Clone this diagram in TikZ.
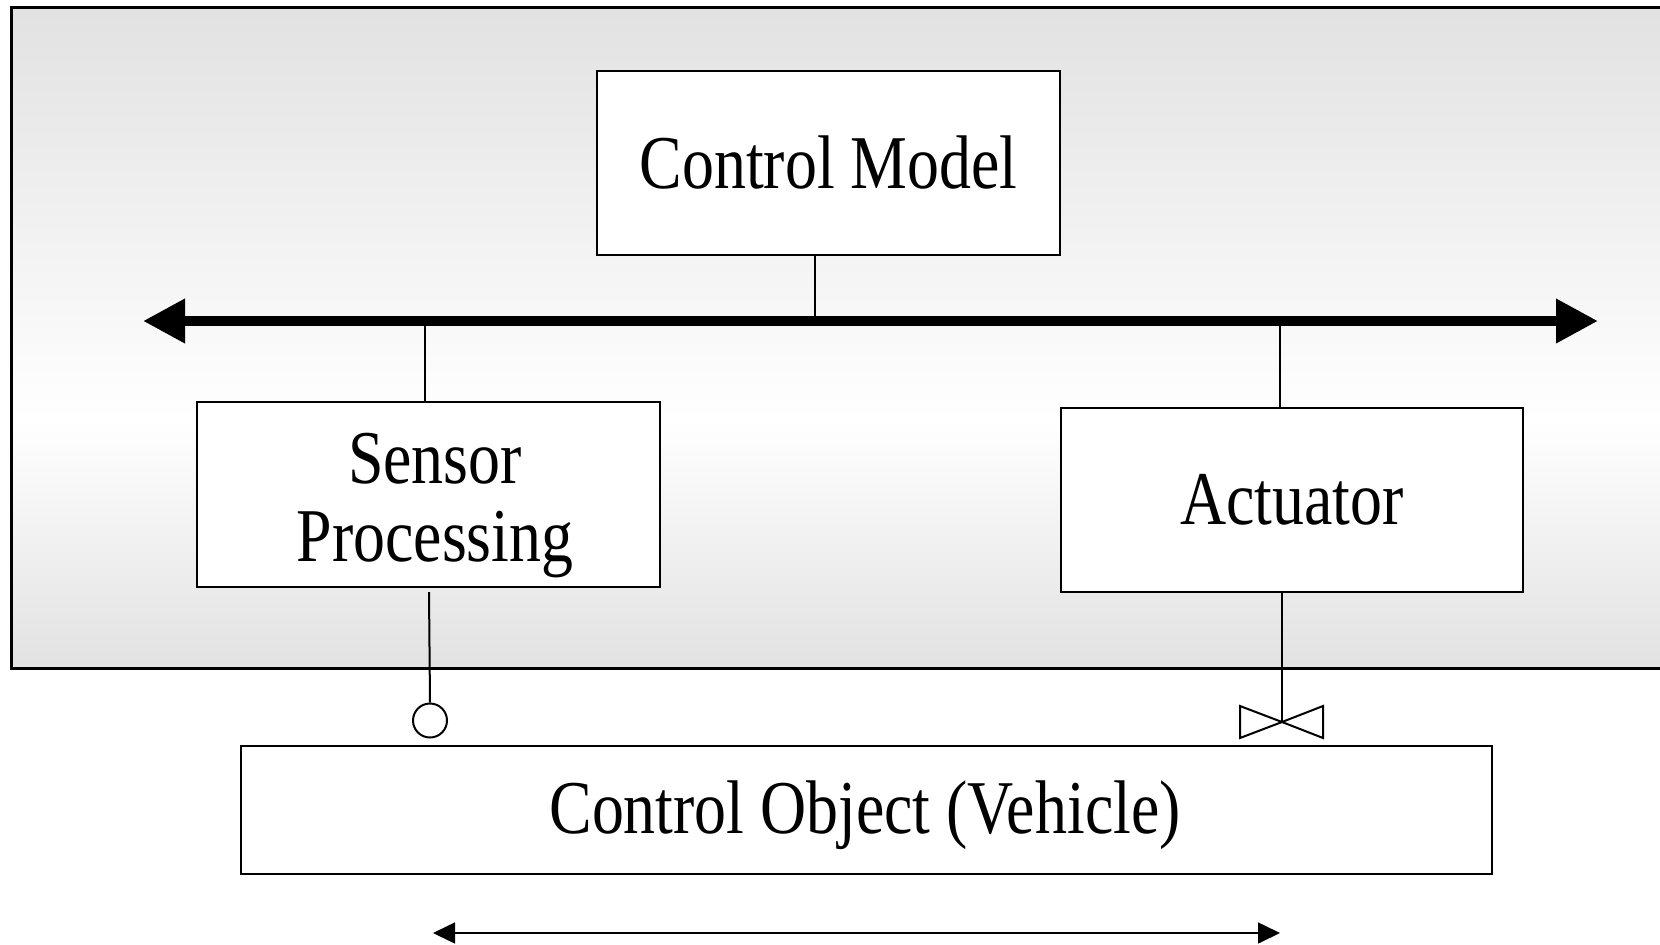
\documentclass[tikz,border=0pt]{standalone}
\usepackage{fontspec}
\setmainfont[FakeStretch=0.84]{Liberation Serif}
\usetikzlibrary{arrows.meta}
\tikzset{
  block/.style={draw, line width=2pt, fill=white, inner sep=0pt, align=center,
    font=\fontsize{76}{78}\selectfont},
  link/.style={line width=2pt},
  bus/.style={line width=10pt, {Triangle[length=42pt,width=42pt]}-{Triangle[length=42pt,width=42pt]}},
  span/.style={line width=1.6pt, {Triangle[length=22pt,width=21pt]}-{Triangle[length=22pt,width=21pt]}},
}
\begin{document}
\begin{tikzpicture}[x=1pt,y=-1pt]
\useasboundingbox (0,0) rectangle (1660,945);
% shaded controller area (open to the right)
\shade[top color=gray!23, bottom color=white] (11,7) rectangle (1662,420);
\shade[top color=white, bottom color=gray!23] (11,420) rectangle (1662,668);
\draw[line width=3pt] (1664,7) -- (11,7) -- (11,668) -- (1664,668);

% blocks
\node[block, minimum width=463pt, minimum height=184pt] (cm) at (828.5,163) {Control Model};
\node[block, minimum width=463pt, minimum height=185pt] (sp) at (428.5,494.5) {};
\node[font=\fontsize{76}{78}\selectfont, align=center, inner sep=0pt] (sptext) at (435,506) {Sensor\\Processing};
\node[block, minimum width=462pt, minimum height=184pt] (ac) at (1292,500) {Actuator};
\node[block, minimum width=1251pt, minimum height=128pt] (co) at (866.5,810) {};
\node[font=\fontsize{76}{78}\selectfont, inner sep=0pt] (cotext) at (865,815) {Control Object (Vehicle)};

% bus
\coordinate (busL) at (143,321);
\coordinate (busR) at (1598,321);
\draw[bus] (busL) -- (busR);

% stubs to the bus
\draw[link] (815,255) coordinate (cmS) -- (cmS |- busL);
\draw[link] (424.5,402) coordinate (spN) -- (spN |- busL);
\draw[link] (1280,408) coordinate (acN) -- (acN |- busL);

% sensor probe
\node[draw, circle, line width=2pt, minimum size=34pt, inner sep=0pt] (probe) at (430,720.5) {};
\draw[link] (429,592) -- (probe.north);

% actuator valve
\coordinate (valve) at (1282,722);
\draw[link] (1282,592) -- (valve);
\draw[link, line join=miter] (valve) -- (1240,706) -- (1240,738) -- cycle;
\draw[link, line join=miter] (valve) -- (1323,706) -- (1323,738) -- cycle;

% range arrow below the object
\coordinate (spanL) at (433,933);
\coordinate (spanR) at (1280,933);
\draw[span] (spanL) -- (spanR);
\end{tikzpicture}
\end{document}
